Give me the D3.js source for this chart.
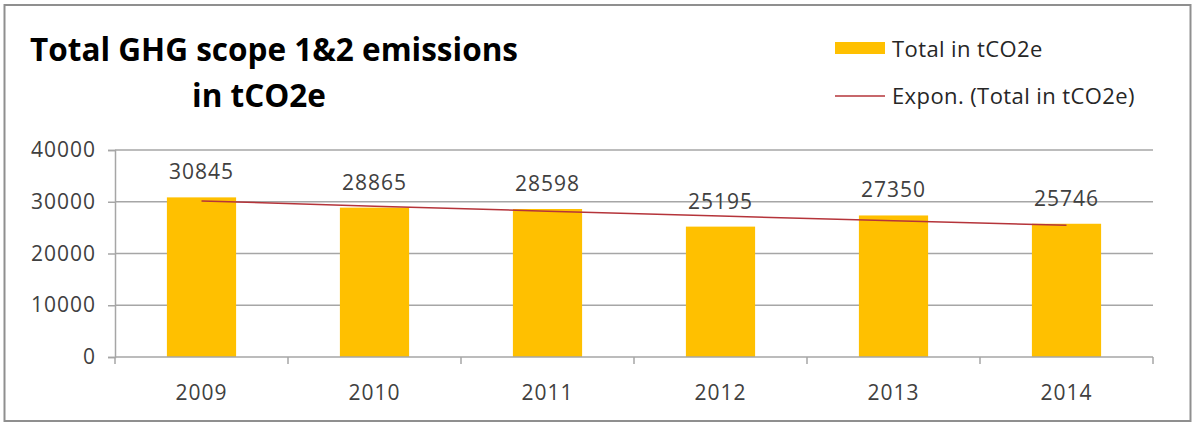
<!doctype html>
<html>
<head>
<meta charset="UTF-8">
<title>Total GHG scope 1&amp;2 emissions</title>
<script src="https://d3js.org/d3.v7.min.js"></script>
<style>
    body{ margin:0; background:#fff; }
    text{ font-family:"Open Sans", sans-serif; }
    .tick text{ fill:#404040; }
</style>
</head>
<body>
<svg width="1196" height="425" id="chart"></svg>
<script>
    // data
    var years = ["2009", "2010", "2011", "2012", "2013", "2014"];
    var totals = [30845, 28865, 28598, 25195, 27350, 25746];
    var trend = [30160, 29150, 28180, 27240, 26320, 25440];   // Expon. trendline as drawn
    var yTicks = [0, 10000, 20000, 30000, 40000];
    var titleLines = ["Total GHG scope 1&2 emissions", "in tCO2e"];
    var legendLabels = ["Total in tCO2e", "Expon. (Total in tCO2e)"];

    var plotL = 115, plotR = 1153, plotT = 150, plotB = 357;
    var barColor = "#ffc000", lineColor = "#b5343a", gridColor = "#a6a6a6";

    var svg = d3.select("#chart");

    // frame
    svg.append("rect")
       .attr("x", 4.5).attr("y", 5)
       .attr("width", 1186).attr("height", 416)
       .attr("fill", "#fff")
       .attr("stroke", "#8f8f8f")
       .attr("stroke-width", 2);

    var x = d3.scaleBand().domain(years).range([plotL, plotR]).paddingInner(0.6).paddingOuter(0.3);
    var xCat = d3.scaleBand().domain(years).range([plotL, plotR]);
    var y = d3.scaleLinear().domain([0, 40000]).range([plotB, plotT]);

    // gridlines
    svg.append("g").selectAll("line")
       .data(yTicks.slice(1))
       .enter().append("line")
       .attr("x1", plotL).attr("x2", plotR)
       .attr("y1", function(d){ return y(d); })
       .attr("y2", function(d){ return y(d); })
       .attr("stroke", gridColor)
       .attr("stroke-width", 1.5);

    // y axis
    var yAxis = svg.append("g")
       .attr("transform", "translate(" + plotL + ",0)")
       .call(d3.axisLeft(y).tickValues(yTicks).tickSize(7).tickPadding(12).tickFormat(d3.format("d")));
    yAxis.select(".domain").attr("stroke", gridColor).attr("stroke-width", 1.5);
    yAxis.selectAll(".tick line").attr("stroke", gridColor).attr("stroke-width", 1.5);
    yAxis.selectAll(".tick text")
         .attr("font-size", 21).attr("letter-spacing", 1)
         .attr("font-family", "Open Sans");

    // bars
    svg.append("g").selectAll("rect")
       .data(totals)
       .enter().append("rect")
       .attr("x", function(d, i){ return x(years[i]); })
       .attr("y", function(d){ return y(d); })
       .attr("width", x.bandwidth())
       .attr("height", function(d){ return y(0) - y(d); })
       .attr("fill", barColor);

    // x axis with ticks on category boundaries
    var xAxisG = svg.append("g").attr("transform", "translate(0," + plotB + ")");
    xAxisG.append("line")
          .attr("x1", plotL).attr("x2", plotR)
          .attr("stroke", gridColor).attr("stroke-width", 1.5);
    xAxisG.selectAll("line.tk")
          .data(years.concat(["end"]))
          .enter().append("line")
          .attr("class", "tk")
          .attr("x1", function(d, i){ return plotL + i * xCat.step(); })
          .attr("x2", function(d, i){ return plotL + i * xCat.step(); })
          .attr("y1", 0).attr("y2", 7)
          .attr("stroke", gridColor).attr("stroke-width", 1.5);
    xAxisG.selectAll("text")
          .data(years)
          .enter().append("text")
          .attr("x", function(d){ return xCat(d) + xCat.bandwidth() / 2; })
          .attr("y", 43)
          .attr("text-anchor", "middle")
          .attr("font-size", 21).attr("letter-spacing", 1)
          .attr("fill", "#404040")
          .text(function(d){ return d; });

    // trendline
    var line = d3.line()
       .x(function(d, i){ return xCat(years[i]) + xCat.bandwidth() / 2; })
       .y(function(d){ return y(d); });
    svg.append("path")
       .datum(trend)
       .attr("d", line)
       .attr("fill", "none")
       .attr("stroke", lineColor)
       .attr("stroke-width", 1.5);

    // value labels
    svg.append("g").selectAll("text")
       .data(totals)
       .enter().append("text")
       .attr("x", function(d, i){ return xCat(years[i]) + xCat.bandwidth() / 2; })
       .attr("y", function(d){ return y(d) - 18; })
       .attr("text-anchor", "middle")
       .attr("font-size", 21).attr("letter-spacing", 1)
       .attr("fill", "#404040")
       .text(function(d){ return d; });

    // title
    svg.append("text")
       .attr("x", 30).attr("y", 61)
       .attr("font-size", 31.5).attr("font-weight", "bold")
       .attr("fill", "#000")
       .text(titleLines[0]);
    svg.append("text")
       .attr("x", 259).attr("y", 107)
       .attr("text-anchor", "middle")
       .attr("font-size", 31.5).attr("font-weight", "bold")
       .attr("fill", "#000")
       .text(titleLines[1]);

    // legend
    var lg = svg.append("g").attr("transform", "translate(835,0)");
    lg.append("rect")
      .attr("x", 0).attr("y", 42)
      .attr("width", 50).attr("height", 12)
      .attr("fill", barColor);
    lg.append("text")
      .attr("x", 57).attr("y", 57)
      .attr("font-size", 22).attr("letter-spacing", 0.4)
      .attr("fill", "#262626")
      .text(legendLabels[0]);
    lg.append("line")
      .attr("x1", 0).attr("x2", 50)
      .attr("y1", 96).attr("y2", 96)
      .attr("stroke", lineColor).attr("stroke-width", 1.5);
    lg.append("text")
      .attr("x", 57).attr("y", 104)
      .attr("font-size", 22).attr("letter-spacing", 0.4)
      .attr("fill", "#262626")
      .text(legendLabels[1]);
</script>
</body>
</html>
